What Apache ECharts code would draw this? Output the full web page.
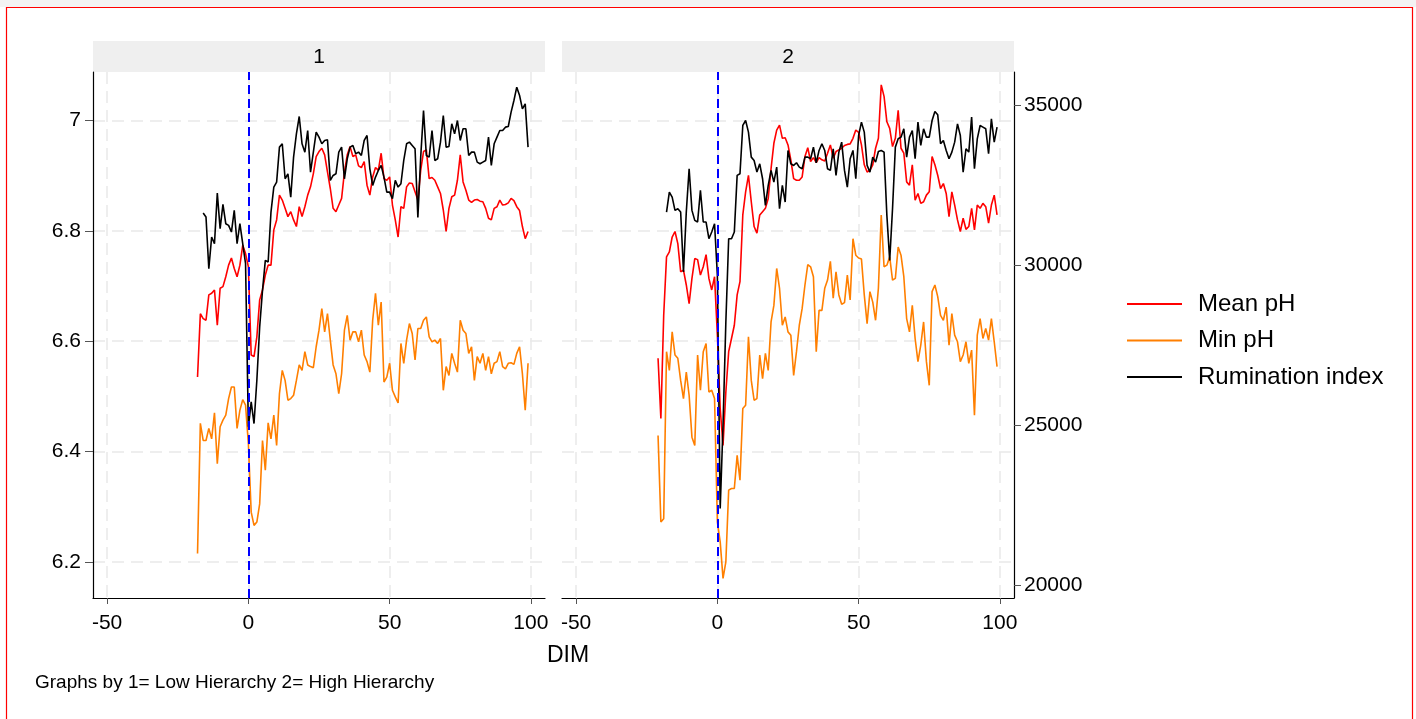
<!DOCTYPE html>
<html>
<head>
<meta charset="utf-8">
<title>Mean pH, Min pH and Rumination index by DIM</title>
<script src="https://cdn.jsdelivr.net/npm/echarts@6.0.0/dist/echarts.min.js"></script>
<style>
  html, body { margin: 0; padding: 0; background: #fff; }
  #chart { width: 1416px; height: 719px; }
</style>
</head>
<body>
<div id="chart"></div>
<script>
// panel 1 = Low Hierarchy, panel 2 = High Hierarchy
const dim1 = [-18,-17,-16,-15,-14,-13,-12,-11,-10,-9,-8,-7,-6,-5,-4,-3,-2,-1,0,1,2,3,4,5,6,7,8,9,10,11,12,13,14,15,16,17,18,19,20,21,22,23,24,25,26,27,28,29,30,31,32,33,34,35,36,37,38,39,40,41,42,43,44,45,46,47,48,49,50,51,52,53,54,55,56,57,58,59,60,61,62,63,64,65,66,67,68,69,70,71,72,73,74,75,76,77,78,79,80,81,82,83,84,85,86,87,88,89,90,91,92,93,94,95,96,97,98,99];
const dim2 = [-21,-20,-19,-18,-17,-16,-15,-14,-13,-12,-11,-10,-9,-8,-7,-6,-5,-4,-3,-2,-1,0,1,2,3,4,5,6,7,8,9,10,11,12,13,14,15,16,17,18,19,20,21,22,23,24,25,26,27,28,29,30,31,32,33,34,35,36,37,38,39,40,41,42,43,44,45,46,47,48,49,50,51,52,53,54,55,56,57,58,59,60,61,62,63,64,65,66,67,68,69,70,71,72,73,74,75,76,77,78,79,80,81,82,83,84,85,86,87,88,89,90,91,92,93,94,95,96,97,98,99];

const meanPh1 = [
  6.535, 6.650, 6.641, 6.638, 6.684, 6.687, 6.693, 6.629, 6.696, 6.699,
  6.717, 6.738, 6.751, 6.732, 6.717, 6.738, 6.774, 6.759, 6.735, 6.575,
  6.572, 6.608, 6.675, 6.693, 6.720, 6.738, 6.738, 6.802, 6.820, 6.865,
  6.856, 6.841, 6.826, 6.835, 6.820, 6.808, 6.844, 6.826, 6.844, 6.865,
  6.880, 6.904, 6.935, 6.944, 6.950, 6.938, 6.907, 6.877, 6.841, 6.835,
  6.847, 6.859, 6.907, 6.938, 6.953, 6.935, 6.938, 6.918, 6.915, 6.926,
  6.883, 6.865, 6.898, 6.915, 6.910, 6.941, 6.895, 6.892, 6.898, 6.847,
  6.820, 6.789, 6.844, 6.841, 6.880, 6.887, 6.886, 6.871, 6.856, 6.910,
  6.944, 6.947, 6.895, 6.897, 6.892, 6.880, 6.868, 6.838, 6.799, 6.841,
  6.862, 6.865, 6.892, 6.938, 6.889, 6.874, 6.856, 6.852, 6.856, 6.857,
  6.854, 6.853, 6.841, 6.823, 6.820, 6.841, 6.844, 6.856, 6.847, 6.848,
  6.851, 6.859, 6.855, 6.844, 6.837, 6.808, 6.786, 6.799
];
const minPh1 = [
  6.215, 6.451, 6.420, 6.420, 6.442, 6.423, 6.470, 6.378, 6.445, 6.457,
  6.466, 6.496, 6.517, 6.517, 6.442, 6.475, 6.494, 6.484, 6.414, 6.290,
  6.266, 6.272, 6.305, 6.420, 6.366, 6.452, 6.423, 6.466, 6.411, 6.505,
  6.547, 6.529, 6.493, 6.496, 6.502, 6.529, 6.557, 6.547, 6.581, 6.557,
  6.554, 6.552, 6.590, 6.620, 6.659, 6.617, 6.650, 6.602, 6.557, 6.541,
  6.505, 6.541, 6.620, 6.647, 6.602, 6.617, 6.617, 6.599, 6.620, 6.575,
  6.563, 6.544, 6.638, 6.687, 6.629, 6.671, 6.526, 6.535, 6.560, 6.511,
  6.499, 6.488, 6.596, 6.560, 6.602, 6.632, 6.614, 6.566, 6.623, 6.623,
  6.638, 6.644, 6.608, 6.599, 6.602, 6.596, 6.605, 6.511, 6.554, 6.538,
  6.578, 6.560, 6.544, 6.638, 6.620, 6.614, 6.578, 6.590, 6.529, 6.572,
  6.560, 6.578, 6.547, 6.572, 6.541, 6.560, 6.563, 6.581, 6.554, 6.550,
  6.560, 6.561, 6.558, 6.578, 6.590, 6.541, 6.475, 6.560
];
const rum1 = [
  null, null, 31635, 31510, 29895, 30885, 30677, 32260, 31145, 31906,
  31302, 31250, 31041, 31718, 30677, 31302, 30677, 30052, 24947, 25729,
  25051, 26406, 28072, 29218, 30156, 30104, 31666, 32448, 32604, 33698,
  33802, 32708, 32864, 32135, 33385, 34114, 34656, 33802, 33541, 34218,
  32916, 33541, 34166, 34010, 33802, 33906, 33927, 32656, 32812, 32864,
  33541, 33698, 32708, 33333, 33698, 33750, 33489, 33541, 33437, 33906,
  34062, 33021, 32500, 32760, 32968, 33125, 32760, 32291, 32291, 32083,
  32656, 32448, 32552, 33281, 33802, 33854, 33750, 33646, 31500, 33385,
  34843, 33437, 33385, 34218, 33281, 33333, 33854, 34687, 33698, 33719,
  34427, 34114, 34531, 33906, 34271, 34271, 33437, 33541, 33541, 33229,
  33177, 33229, 33281, 34010, 33125, 33802, 34010, 34218, 34218, 34323,
  34343, 34791, 35156, 35573, 35312, 34896, 35052, 33698
];

const meanPh2 = [
  6.569, 6.460, 6.647, 6.753, 6.762, 6.789, 6.799, 6.777, 6.726, 6.729,
  6.702, 6.668, 6.714, 6.750, 6.748, 6.720, 6.735, 6.757, 6.714, 6.693,
  6.717, 6.611, 6.478, 6.411, 6.508, 6.581, 6.605, 6.629, 6.684, 6.708,
  6.829, 6.871, 6.901, 6.853, 6.808, 6.796, 6.829, 6.835, 6.841, 6.859,
  6.913, 6.959, 6.983, 6.992, 6.968, 6.969, 6.956, 6.929, 6.895, 6.892,
  6.892, 6.898, 6.935, 6.951, 6.926, 6.933, 6.924, 6.933, 6.929, 6.927,
  6.941, 6.956, 6.932, 6.944, 6.947, 6.950, 6.955, 6.957, 6.958, 6.968,
  6.983, 6.979, 6.956, 6.920, 6.907, 6.910, 6.920, 6.950, 6.968, 7.065,
  7.044, 6.998, 6.986, 6.953, 6.968, 7.019, 6.950, 6.941, 6.889, 6.883,
  6.920, 6.856, 6.868, 6.850, 6.853, 6.865, 6.871, 6.935, 6.920, 6.901,
  6.877, 6.886, 6.868, 6.826, 6.871, 6.847, 6.820, 6.799, 6.823, 6.803,
  6.808, 6.841, 6.802, 6.847, 6.841, 6.850, 6.844, 6.814, 6.847, 6.865,
  6.829
];
const minPh2 = [
  6.429, 6.272, 6.278, 6.581, 6.547, 6.617, 6.575, 6.569, 6.529, 6.496,
  6.544, 6.502, 6.426, 6.411, 6.575, 6.511, 6.581, 6.596, 6.508, 6.511,
  6.496, 6.272, 6.236, 6.170, 6.200, 6.330, 6.333, 6.333, 6.393, 6.348,
  6.478, 6.484, 6.608, 6.529, 6.493, 6.496, 6.575, 6.532, 6.578, 6.547,
  6.635, 6.665, 6.732, 6.696, 6.629, 6.644, 6.617, 6.611, 6.538, 6.581,
  6.629, 6.659, 6.702, 6.739, 6.735, 6.717, 6.581, 6.656, 6.656, 6.696,
  6.711, 6.745, 6.678, 6.726, 6.684, 6.667, 6.670, 6.720, 6.675, 6.786,
  6.756, 6.751, 6.749, 6.684, 6.632, 6.690, 6.671, 6.638, 6.696, 6.829,
  6.735, 6.738, 6.753, 6.711, 6.714, 6.771, 6.756, 6.717, 6.641, 6.617,
  6.665, 6.605, 6.563, 6.593, 6.635, 6.563, 6.520, 6.690, 6.702, 6.681,
  6.647, 6.638, 6.662, 6.593, 6.650, 6.611, 6.599, 6.563, 6.575, 6.599,
  6.560, 6.584, 6.466, 6.611, 6.641, 6.605, 6.623, 6.602, 6.641, 6.599,
  6.554
];
const rum2 = [
  null, null, null, 31667, 32292, 32135, 31719, 31771, 31667, 29792,
  31667, 33021, 31719, 31406, 31354, 32344, 31354, 31354, 30833, 31042,
  31302, 29688, 22396, 25000, 28229, 30833, 30833, 31042, 32813, 32865,
  34375, 34531, 34167, 33385, 33281, 32917, 33177, 32708, 31875, 32500,
  32969, 32604, 33073, 31771, 32500, 31979, 33594, 33177, 33125, 33208,
  33073, 33021, 33385, 33385, 33333, 33698, 33208, 33594, 33802, 33594,
  33021, 32969, 33646, 32813, 33542, 33854, 32969, 32448, 33333, 33594,
  32708, 34063, 34479, 34167, 33125, 32917, 33385, 33229, 33562, 33594,
  33542, 31562, 30156, 31771, 33698, 33958, 34010, 34271, 33385, 34010,
  34219, 33333, 34479, 33750, 34271, 34010, 34010, 34531, 34812, 34708,
  33802, 33906, 33594, 33333, 33542, 33854, 34427, 34062, 32917, 33646,
  33542, 34635, 33021, 33958, 34375, 34323, 34271, 33490, 34583, 33854,
  34323
];

const dimTicks = [-50, 0, 50, 100];
const phTicks = [6.2, 6.4, 6.6, 6.8, 7];
const rumTicks = [20000, 25000, 30000, 35000];
const panelTitles = ['1', '2'];
const seriesNames = ['Mean pH', 'Min pH', 'Rumination index'];
const seriesColors = ['#ff0000', '#ff7f00', '#000000'];

const FONT = "'Liberation Sans', Arial, sans-serif";
const gridLineStyle = { color: '#e9e9e9', width: 1.5, type: [12, 7] };
const panelLeft = [93, 562];
const panelWidth = 452;

const pairs = (dims, vals) => dims.map((d, i) => [d, vals[i]]);

const xAxisFor = (gridIndex) => ({
  type: 'value',
  gridIndex,
  min: -55,
  max: 105,
  axisLine: { onZero: false, lineStyle: { color: '#000', width: 1.2 } },
  axisTick: { length: 6, lineStyle: { color: '#555' }, customValues: dimTicks },
  axisLabel: { customValues: dimTicks, color: '#000', fontSize: 21, fontFamily: FONT, margin: 15 },
  splitLine: { show: true, lineStyle: gridLineStyle }
});

const phAxisFor = (gridIndex, visible) => ({
  type: 'value',
  gridIndex,
  position: 'left',
  min: 6.1343,
  max: 7.0883,
  axisLine: { show: visible, onZero: false, lineStyle: { color: '#000', width: 1.2 } },
  axisTick: { show: visible, length: 8, lineStyle: { color: '#555' }, customValues: phTicks },
  axisLabel: {
    show: visible,
    customValues: phTicks,
    color: '#000',
    fontSize: 21,
    fontFamily: FONT,
    margin: 12,
    formatter: (v) => (Math.abs(v - 7) < 1e-9 ? '7' : v.toFixed(1))
  },
  splitLine: { show: true, lineStyle: gridLineStyle }
});

const rumAxisFor = (gridIndex, visible) => ({
  type: 'value',
  gridIndex,
  position: 'right',
  min: 19593,
  max: 36048,
  show: visible,
  axisLine: { show: visible, onZero: false, lineStyle: { color: '#000', width: 1.2 } },
  axisTick: { show: visible, length: 7, lineStyle: { color: '#555' }, customValues: rumTicks },
  axisLabel: {
    show: visible,
    customValues: rumTicks,
    color: '#000',
    fontSize: 21,
    fontFamily: FONT,
    margin: 10,
    formatter: (v) => String(Math.round(v))
  },
  splitLine: { show: false }
});

const lineSeries = (name, color, data, xi, yi, extra) => Object.assign({
  name,
  type: 'line',
  xAxisIndex: xi,
  yAxisIndex: yi,
  data,
  symbol: 'none',
  showSymbol: false,
  connectNulls: false,
  lineStyle: { color, width: 1.6 },
  itemStyle: { color },
  emphasis: { disabled: true },
  animation: false
}, extra || {});

const zeroLine = {
  silent: true,
  symbol: ['none', 'none'],
  label: { show: false },
  lineStyle: { color: '#0000ff', width: 2, type: [9, 5] },
  data: [{ xAxis: 0 }],
  animation: false
};

const panelGraphics = [];
panelLeft.forEach((left, i) => {
  panelGraphics.push({
    type: 'rect', left: left, top: 41, silent: true,
    shape: { width: panelWidth, height: 31 },
    style: { fill: '#efefef' }
  });
  panelGraphics.push({
    type: 'text', silent: true,
    x: left + panelWidth / 2, y: 57,
    style: { text: panelTitles[i], fill: '#000', font: '21px ' + FONT, textAlign: 'center', textVerticalAlign: 'middle' }
  });
});

const chart = echarts.init(document.getElementById('chart'), null, { renderer: 'canvas' });

chart.setOption({
  backgroundColor: '#fff',
  animation: false,
  grid: [
    { left: panelLeft[0], top: 72, width: panelWidth, height: 526 },
    { left: panelLeft[1], top: 72, width: panelWidth, height: 526 }
  ],
  xAxis: [xAxisFor(0), xAxisFor(1)],
  yAxis: [phAxisFor(0, true), rumAxisFor(0, false), phAxisFor(1, false), rumAxisFor(1, true)],
  legend: {
    orient: 'vertical',
    left: 1122,
    top: 287,
    itemWidth: 55,
    itemHeight: 2,
    itemGap: 12.5,
    icon: 'rect',
    selectedMode: false,
    textStyle: { fontSize: 24, fontFamily: FONT, color: '#000', padding: [0, 0, 0, 11] },
    data: seriesNames
  },
  series: [
    lineSeries(seriesNames[0], seriesColors[0], pairs(dim1, meanPh1), 0, 0, { markLine: zeroLine }),
    lineSeries(seriesNames[1], seriesColors[1], pairs(dim1, minPh1), 0, 0),
    lineSeries(seriesNames[2], seriesColors[2], pairs(dim1, rum1), 0, 1),
    lineSeries(seriesNames[0], seriesColors[0], pairs(dim2, meanPh2), 1, 2, { markLine: zeroLine }),
    lineSeries(seriesNames[1], seriesColors[1], pairs(dim2, minPh2), 1, 2),
    lineSeries(seriesNames[2], seriesColors[2], pairs(dim2, rum2), 1, 3)
  ],
  graphic: [
    { type: 'rect', left: 0, top: 0, silent: true, shape: { width: 1416, height: 7 }, style: { fill: '#f3f3f3' } },
    { type: 'rect', silent: true, shape: { x: 6.5, y: 7.5, width: 1406, height: 730 }, style: { fill: null, stroke: '#ff0000', lineWidth: 1.2 } },
    ...panelGraphics,
    {
      type: 'text', silent: true, x: 568, y: 656,
      style: { text: 'DIM', fill: '#000', font: '23px ' + FONT, textAlign: 'center', textVerticalAlign: 'middle' }
    },
    {
      type: 'text', silent: true, x: 35, y: 683,
      style: { text: 'Graphs by 1= Low Hierarchy 2= High Hierarchy', fill: '#000', font: '19px ' + FONT, textAlign: 'left', textVerticalAlign: 'middle' }
    }
  ]
});
</script>
</body>
</html>
